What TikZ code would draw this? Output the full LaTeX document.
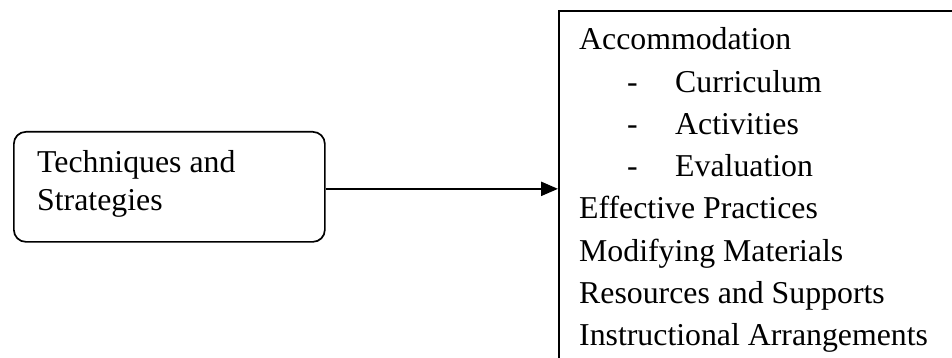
\documentclass[tikz,border=0pt]{standalone}
\usepackage{fontspec}
\setmainfont{Liberation Serif}
\usetikzlibrary{arrows.meta}
\begin{document}
\begin{tikzpicture}[x=1pt,y=-1pt,
  txt/.style={anchor=base west, inner sep=0pt, font=\fontsize{31.8}{37}\selectfont},
  leftbox/.style={draw, rounded corners=12pt, line width=1.7pt, anchor=north west,
                  minimum width=311pt, minimum height=110pt, inner sep=0pt},
  listbox/.style={draw, line width=1.9pt, anchor=north west,
                  minimum width=500pt, minimum height=420pt, inner sep=0pt},
  conn/.style={line width=2.4pt, -{Triangle[length=17pt,width=14pt]}}]
\useasboundingbox (0,0) rectangle (952,358);
\clip (0,0) rectangle (952,358);
\fill[white] (0,0) rectangle (952,358);
% left box
\node[leftbox] (left) at (13,131) {};
\node[txt] (lt1) at (37,173) {Techniques and};
\node[txt] (lt2) at (37,210) {Strategies};
% right box (runs past the picture edge)
\node[listbox] (right) at (558,10) {};
\node[txt] (r0) at (579,50) {Accommodation};
\node[txt] (d1) at (627,92.2) {-};
\node[txt] (r1) at (675,92.2) {Curriculum};
\node[txt] (d2) at (627,134.4) {-};
\node[txt] (r2) at (675,134.4) {Activities};
\node[txt] (d3) at (627,176.6) {-};
\node[txt] (r3) at (675,176.6) {Evaluation};
\node[txt] (r4) at (579,218.8) {Effective Practices};
\node[txt] (r5) at (579,261) {Modifying Materials};
\node[txt] (r6) at (579,303.2) {Resources and Supports};
\node[txt] (r7) at (579,345.4) {Instructional Arrangements};
% connector
\draw[conn] ([yshift=-2pt]left.east) -- ([yshift=-2pt]left.east -| right.west);
\end{tikzpicture}
\end{document}
